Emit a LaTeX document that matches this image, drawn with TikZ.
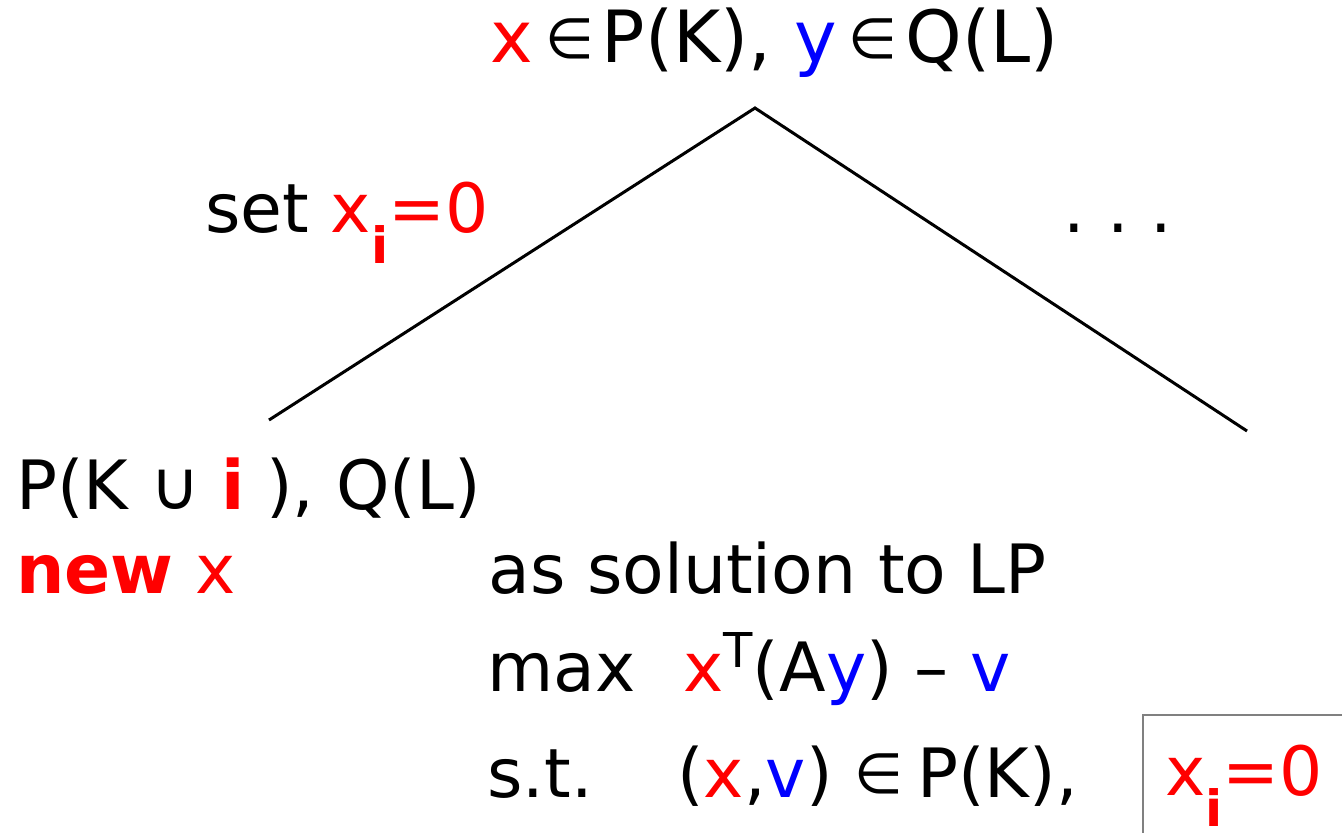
\documentclass[tikz,border=0pt]{standalone}
\usepackage{fontspec}
\setmainfont{DejaVu Sans}
\newcommand{\cred}[1]{\textcolor{red}{#1}}
\newcommand{\cblue}[1]{\textcolor{blue}{#1}}
\newcommand{\subi}{\raisebox{-15.5pt}{\fontsize{25}{25}\selectfont\bfseries i}}
\newcommand{\supT}{\raisebox{12pt}{\fontsize{24}{24}\selectfont T}}
\newcommand{\elem}{\kern6pt\raisebox{2pt}{\fontsize{28}{28}\selectfont ∈}\kern4pt}

\begin{document}
\begin{tikzpicture}[
      x=0.5pt, y=-0.5pt,
      txt/.style={anchor=base west, inner sep=0pt, font=\fontsize{34}{40}\selectfont},
      edge/.style={line width=1.5pt, black},
      fixbox/.style={draw=gray, line width=0.8pt}
    ]
      \useasboundingbox (0,0) rectangle (1342,832);
      % branching
      \coordinate (apex) at (755,108);
      \coordinate (leftend) at (269,420);
      \coordinate (rightend) at (1247,431);
      \draw[edge] (leftend) -- (apex) -- (rightend);
      \node[txt, font=\fontsize{36}{40}\selectfont] (root) at (490,62) {\cred{x}\elem P(K), \cblue{y}\elem Q(L)};
      \node[txt] (setlbl) at (205,232) {set \cred{x\subi=0}};
      \node[txt] (dots) at (1063,232) {.\kern11pt.\kern11pt.};
      % left child
      \node[txt] (child) at (16,509) {P(K ∪ \cred{\bfseries i} ), Q(L)};
      \node[txt] (newx) at (16,593) {\cred{\bfseries new} \cred{x}};
      \node[txt] (lpa) at (488,593) {as solution to LP};
      \node[txt] (lpb) at (487,691) {\makebox[98pt][l]{max}\cred{x}\supT(A\cblue{y}) – \cblue{v}};
      \node[txt] (lpc) at (487,797) {\makebox[95pt][l]{s.t.}(\cred{x},\cblue{v})\kern5pt\elem\kern3pt P(K),};
      % extra constraint
      \begin{scope}
        \clip (0,0) rectangle (1342,832);
        \draw[fixbox] (1143,715) rectangle (1360,850);
      \end{scope}
      \node[txt] (fixlbl) at (1165,795) {\cred{x\subi=0}};
    \end{tikzpicture}
\end{document}
